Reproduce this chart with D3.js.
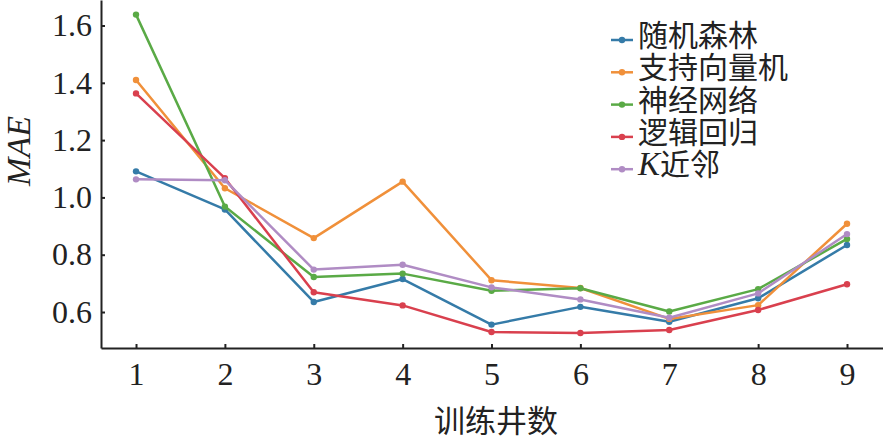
<!DOCTYPE html>
<html>
<head>
<meta charset="utf-8">
<script src="https://cdn.jsdelivr.net/npm/d3@7"></script>
<style>
  body { margin: 0; background: #fff; }
  svg { display: block; }
  .axis text { font-family: "Liberation Serif", "Times New Roman", serif; font-size: 32px; fill: #222; }
  .axis path, .axis line { stroke: #222; stroke-width: 2; }
</style>
</head>
<body>
<div id="chart"></div>
<script>
// data
const wells = [1, 2, 3, 4, 5, 6, 7, 8, 9];
const seriesNames = ["随机森林", "支持向量机", "神经网络", "逻辑回归", "K近邻"];
const rf  = [1.091, 0.958, 0.635, 0.715, 0.556, 0.618, 0.566, 0.648, 0.834];
const svm = [1.410, 1.032, 0.858, 1.055, 0.711, 0.684, 0.576, 0.624, 0.908];
const nn  = [1.638, 0.968, 0.722, 0.734, 0.674, 0.683, 0.602, 0.680, 0.855];
const lr  = [1.363, 1.067, 0.669, 0.623, 0.530, 0.527, 0.537, 0.607, 0.697];
const knn = [1.063, 1.060, 0.748, 0.765, 0.686, 0.644, 0.580, 0.665, 0.872];
const yTicks = [0.6, 0.8, 1.0, 1.2, 1.4, 1.6];
const colors = ["#357ba8", "#f0903a", "#5aaa46", "#d9404e", "#b08cc4"];

const allSeries = [rf, svm, nn, lr, knn];

const W = 883, H = 441;
const margin = { left: 101, bottom: 348, right: 883, top: 0 };

const svg = d3.select("#chart").append("svg")
  .attr("width", W)
  .attr("height", H);

const x = d3.scaleLinear()
  .domain([0.606, 9.405])
  .range([margin.left, margin.right]);

const y = d3.scaleLinear()
  .domain([0.4744, 1.689])
  .range([margin.bottom, margin.top]);

// axes, ticks point inward
svg.append("g")
  .attr("class", "axis")
  .attr("transform", `translate(${margin.left},0)`)
  .call(d3.axisLeft(y).tickValues(yTicks).tickFormat(d3.format(".1f"))
    .tickSizeInner(-4).tickSizeOuter(0).tickPadding(9));

svg.append("g")
  .attr("class", "axis")
  .attr("transform", `translate(0,${margin.bottom})`)
  .call(d3.axisBottom(x).tickValues(wells).tickFormat(d3.format("d"))
    .tickSizeInner(-4).tickSizeOuter(0).tickPadding(14));

// axis titles
svg.append("text")
  .attr("x", 496)
  .attr("y", 432)
  .attr("text-anchor", "middle")
  .style("font-family", "'Noto Sans CJK SC', sans-serif")
  .style("font-size", "31px")
  .style("fill", "#222")
  .text("训练井数");

svg.append("text")
  .attr("transform", "translate(30,151) rotate(-90)")
  .attr("text-anchor", "middle")
  .style("font-family", "'Liberation Serif', serif")
  .style("font-style", "italic")
  .style("font-size", "34px")
  .style("fill", "#222")
  .text("MAE");

// lines
const line = d3.line()
  .x((d, i) => x(wells[i]))
  .y(d => y(d));

const g = svg.append("g");
allSeries.forEach((vals, k) => {
  g.append("path")
    .datum(vals)
    .attr("fill", "none")
    .attr("stroke", colors[k])
    .attr("stroke-width", 2.5)
    .attr("stroke-linejoin", "round")
    .attr("d", line);
  g.selectAll(null)
    .data(vals)
    .enter()
    .append("circle")
    .attr("cx", (d, i) => x(wells[i]))
    .attr("cy", d => y(d))
    .attr("r", 3.2)
    .attr("fill", colors[k]);
});

// legend
const legend = svg.append("g").attr("transform", "translate(611,40)");
const rowH = 32.3;
seriesNames.forEach((name, k) => {
  const row = legend.append("g").attr("transform", `translate(0,${k * rowH})`);
  row.append("line")
    .attr("x1", 0).attr("x2", 22)
    .attr("stroke", colors[k])
    .attr("stroke-width", 2.5);
  row.append("circle")
    .attr("cx", 11).attr("r", 3.2)
    .attr("fill", colors[k]);
  const t = row.append("text")
    .attr("x", 27)
    .attr("y", 6)
    .style("font-family", "'Noto Sans CJK SC', sans-serif")
    .style("font-size", "30px")
    .style("fill", "#222");
  if (name.startsWith("K")) {
    t.append("tspan")
      .style("font-family", "'Liberation Serif', serif")
      .style("font-style", "italic")
      .style("font-size", "33px")
      .text("K");
    t.append("tspan").text(name.slice(1));
  } else {
    t.text(name);
  }
});
</script>
</body>
</html>
